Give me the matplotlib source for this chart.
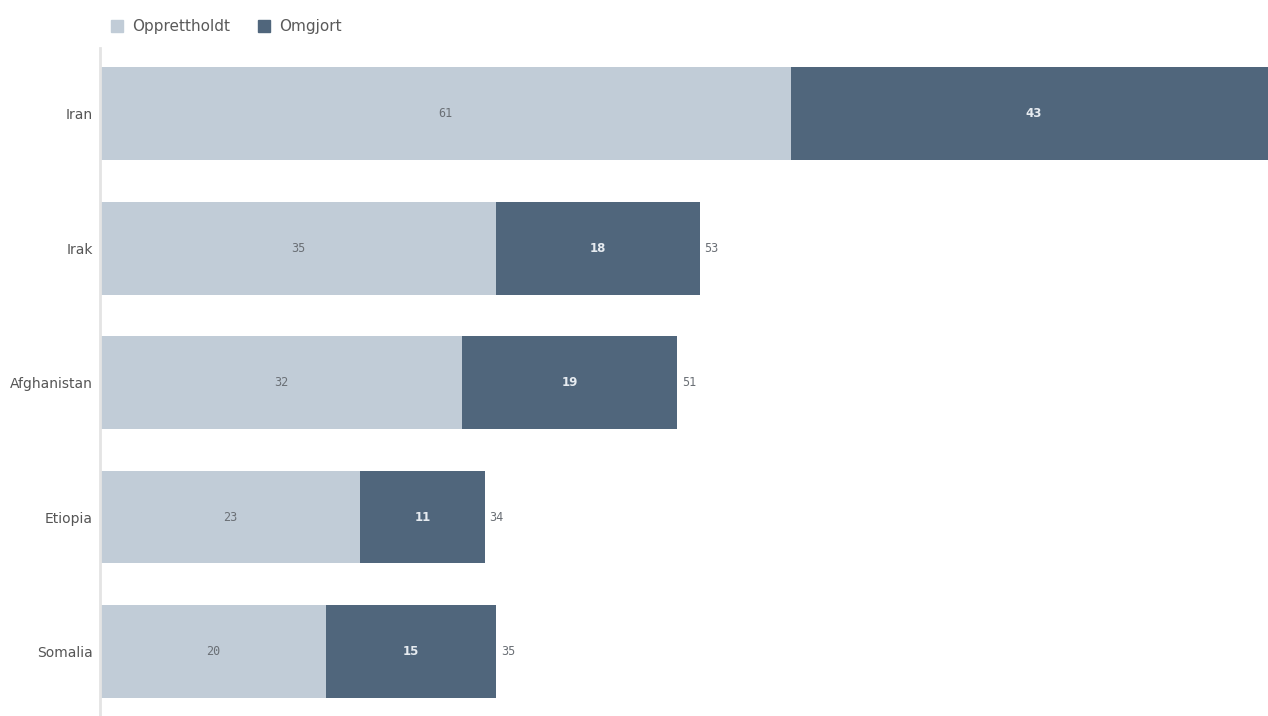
import matplotlib.pyplot as plt
from matplotlib.patches import Patch

countries = ["Iran", "Irak", "Afghanistan", "Etiopia", "Somalia"]
opprettholdt = [61, 35, 32, 23, 20]
omgjort = [43, 18, 19, 11, 15]

light = "#c1ccd7"
dark = "#50667c"


def main():
    fig = plt.figure(figsize=(12.68, 7.16), dpi=100)
    ax = fig.add_axes([100 / 1268, 0, 1168 / 1268, 668 / 716])

    y = range(len(countries))
    ax.barh(y, opprettholdt, height=0.69, color=light)
    ax.barh(y, omgjort, left=opprettholdt, height=0.69, color=dark)

    for i, (a, b) in enumerate(zip(opprettholdt, omgjort)):
        ax.text(a / 2, i, str(a), ha="center", va="center",
                fontsize=8.5, color="#6a6f75", family="DejaVu Sans Mono")
        ax.text(a + b / 2, i, str(b), ha="center", va="center",
                fontsize=8.5, color="#e6ebf0", fontweight="bold")
        total = a + b
        if total < 100:
            ax.text(total + 0.4, i, str(total), ha="left", va="center",
                    fontsize=8.5, color="#6a6f75", family="DejaVu Sans Mono")

    ax.set_xlim(0, 1168 / 11.32)
    ax.set_ylim(4.48, -0.49)
    ax.set_yticks(list(y))
    ax.set_yticklabels(countries, fontsize=10, color="#555555")
    ax.tick_params(axis="y", length=0, pad=5)
    ax.set_xticks([])
    for side in ["top", "right", "bottom"]:
        ax.spines[side].set_visible(False)
    ax.spines["left"].set_color("#e4e4e4")
    ax.spines["left"].set_linewidth(2)

    handles = [Patch(color=light, label="Opprettholdt"),
               Patch(color=dark, label="Omgjort")]
    fig.legend(handles=handles, loc="center left", bbox_to_anchor=(97 / 1268, 1 - 27 / 716),
               ncol=2, frameon=False, fontsize=11, handlelength=0.8, handleheight=0.8,
               handletextpad=0.6, columnspacing=1.8, labelcolor="#5a5a5a")

    fig.savefig("out.png", dpi=100)


if __name__ == '__main__':
    main()
